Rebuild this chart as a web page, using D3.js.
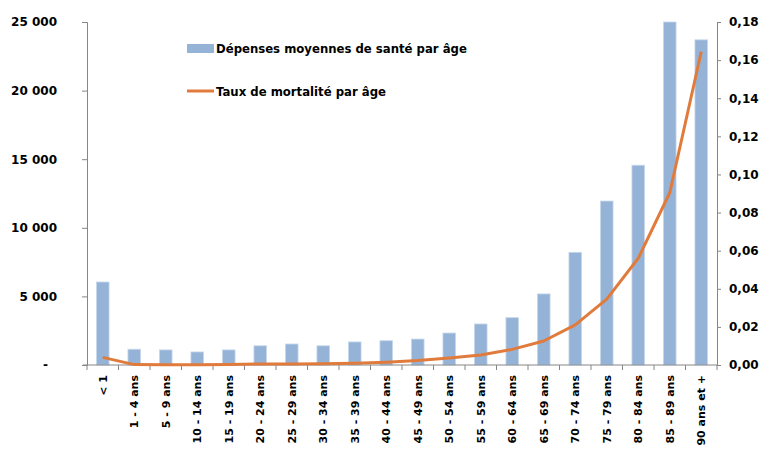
<!DOCTYPE html>
<html lang="fr">
<head>
<meta charset="utf-8">
<script src="https://cdn.jsdelivr.net/npm/d3@7"></script>
<style>
  html, body { margin: 0; padding: 0; background: #fff; }
  svg { display: block; font-family: "DejaVu Sans", sans-serif; font-weight: bold; }
</style>
</head>
<body>
<svg id="chart" width="764" height="450"></svg>
<script>
// Age groups
const categories = ["< 1", "1 - 4 ans", "5 - 9 ans", "10 - 14 ans", "15 - 19 ans", "20 - 24 ans",
  "25 - 29 ans", "30 - 34 ans", "35 - 39 ans", "40 - 44 ans", "45 - 49 ans", "50 - 54 ans",
  "55 - 59 ans", "60 - 64 ans", "65 - 69 ans", "70 - 74 ans", "75 - 79 ans", "80 - 84 ans",
  "85 - 89 ans", "90 ans et +"];

// Average health spending per age group (left axis)
const depenses = [6050, 1150, 1100, 950, 1100, 1400, 1530, 1400, 1680, 1770,
  1890, 2330, 2990, 3450, 5180, 8210, 11950, 14560, 25000, 23700];

// Mortality rate per age group (right axis)
const mortalite = [0.0040, 0.0002, 0.0001, 0.0001, 0.0003, 0.0005, 0.0005, 0.0006, 0.0009, 0.0015,
  0.0023, 0.0037, 0.0052, 0.0082, 0.0126, 0.0211, 0.0346, 0.0560, 0.0904, 0.1644];

const leftTicks = [0, 5000, 10000, 15000, 20000, 25000];
const rightTicks = [0, 0.02, 0.04, 0.06, 0.08, 0.10, 0.12, 0.14, 0.16, 0.18];

const legendLabels = ["Dépenses moyennes de santé par âge", "Taux de mortalité par âge"];

const barColor = "#95B3D7";
const barEdge = "#C6D7EB";
const lineColor = "#E07B3C";
const axisColor = "#868686";

const svg = d3.select("#chart");
const m = { left: 87, right: 717, top: 22, bottom: 365 };

const xb = d3.scaleBand().domain(categories).range([m.left, m.right]);
const yL = d3.scaleLinear().domain([0, 25000]).range([m.bottom, m.top]);
const yR = d3.scaleLinear().domain([0, 0.18]).range([m.bottom, m.top]);

const fmtL = v => v === 0 ? "-" : d3.format(",")(v).replace(/,/g, "\u00a0");
const fmtR = v => d3.format(".2f")(v).replace(".", ",");

// Bars
const barW = 12.6;
svg.append("g").selectAll("rect").data(depenses).join("rect")
  .attr("x", (d, i) => xb(categories[i]) + (xb.bandwidth() - barW) / 2)
  .attr("width", barW)
  .attr("y", d => yL(d))
  .attr("height", d => yL(0) - yL(d))
  .attr("fill", barColor)
  .attr("stroke", barEdge)
  .attr("stroke-width", 0.8);

// Left axis (zero shown as an accounting-style dash, padded on the right)
const gL = svg.append("g").attr("transform", `translate(${m.left},0)`)
  .call(d3.axisLeft(yL).tickValues(leftTicks).tickFormat(fmtL).tickSize(5).tickPadding(25));
gL.selectAll("path, line").attr("stroke", axisColor);
gL.selectAll("text").attr("font-size", 12).attr("fill", "#000").attr("font-family", "DejaVu Sans").attr("font-weight", "bold")
  .attr("dx", d => d === 0 ? -9 : 0);

// Right axis
const gR = svg.append("g").attr("transform", `translate(${m.right},0)`)
  .call(d3.axisRight(yR).tickValues(rightTicks).tickFormat(fmtR).tickSize(4).tickPadding(8));
gR.selectAll("path, line").attr("stroke", axisColor);
gR.selectAll("text").attr("font-size", 12).attr("fill", "#000").attr("font-family", "DejaVu Sans").attr("font-weight", "bold");

// Bottom axis: ticks on category boundaries
const gB = svg.append("g").attr("transform", `translate(0,${m.bottom})`);
gB.append("line").attr("x1", m.left - 4).attr("x2", m.right).attr("y1", 0).attr("y2", 0).attr("stroke", axisColor);
gB.selectAll("line.tick").data(categories.concat([null])).join("line")
  .attr("class", "tick")
  .attr("x1", (d, i) => m.left + i * xb.step()).attr("x2", (d, i) => m.left + i * xb.step())
  .attr("y1", 0).attr("y2", 5).attr("stroke", axisColor);
gB.selectAll("text").data(categories).join("text")
  .attr("transform", d => `translate(${xb(d) + xb.bandwidth() / 2 + 4},10) rotate(-90)`)
  .attr("text-anchor", "end")
  .attr("font-size", 11)
  .text(d => d);

// Mortality line
const line = d3.line()
  .x((d, i) => xb(categories[i]) + xb.bandwidth() / 2)
  .y(d => yR(d));
svg.append("path").datum(mortalite)
  .attr("d", line)
  .attr("fill", "none")
  .attr("stroke", lineColor)
  .attr("stroke-width", 3)
  .attr("stroke-linejoin", "round");

// Legend
const lg = svg.append("g");
lg.append("rect").attr("x", 187).attr("y", 44).attr("width", 27).attr("height", 9).attr("fill", barColor);
lg.append("text").attr("x", 216).attr("y", 53).attr("font-size", 11.7).text(legendLabels[0]);
lg.append("line").attr("x1", 187).attr("x2", 214).attr("y1", 91).attr("y2", 91)
  .attr("stroke", lineColor).attr("stroke-width", 3);
lg.append("text").attr("x", 216).attr("y", 95.5).attr("font-size", 11.7).text(legendLabels[1]);
</script>
</body>
</html>
